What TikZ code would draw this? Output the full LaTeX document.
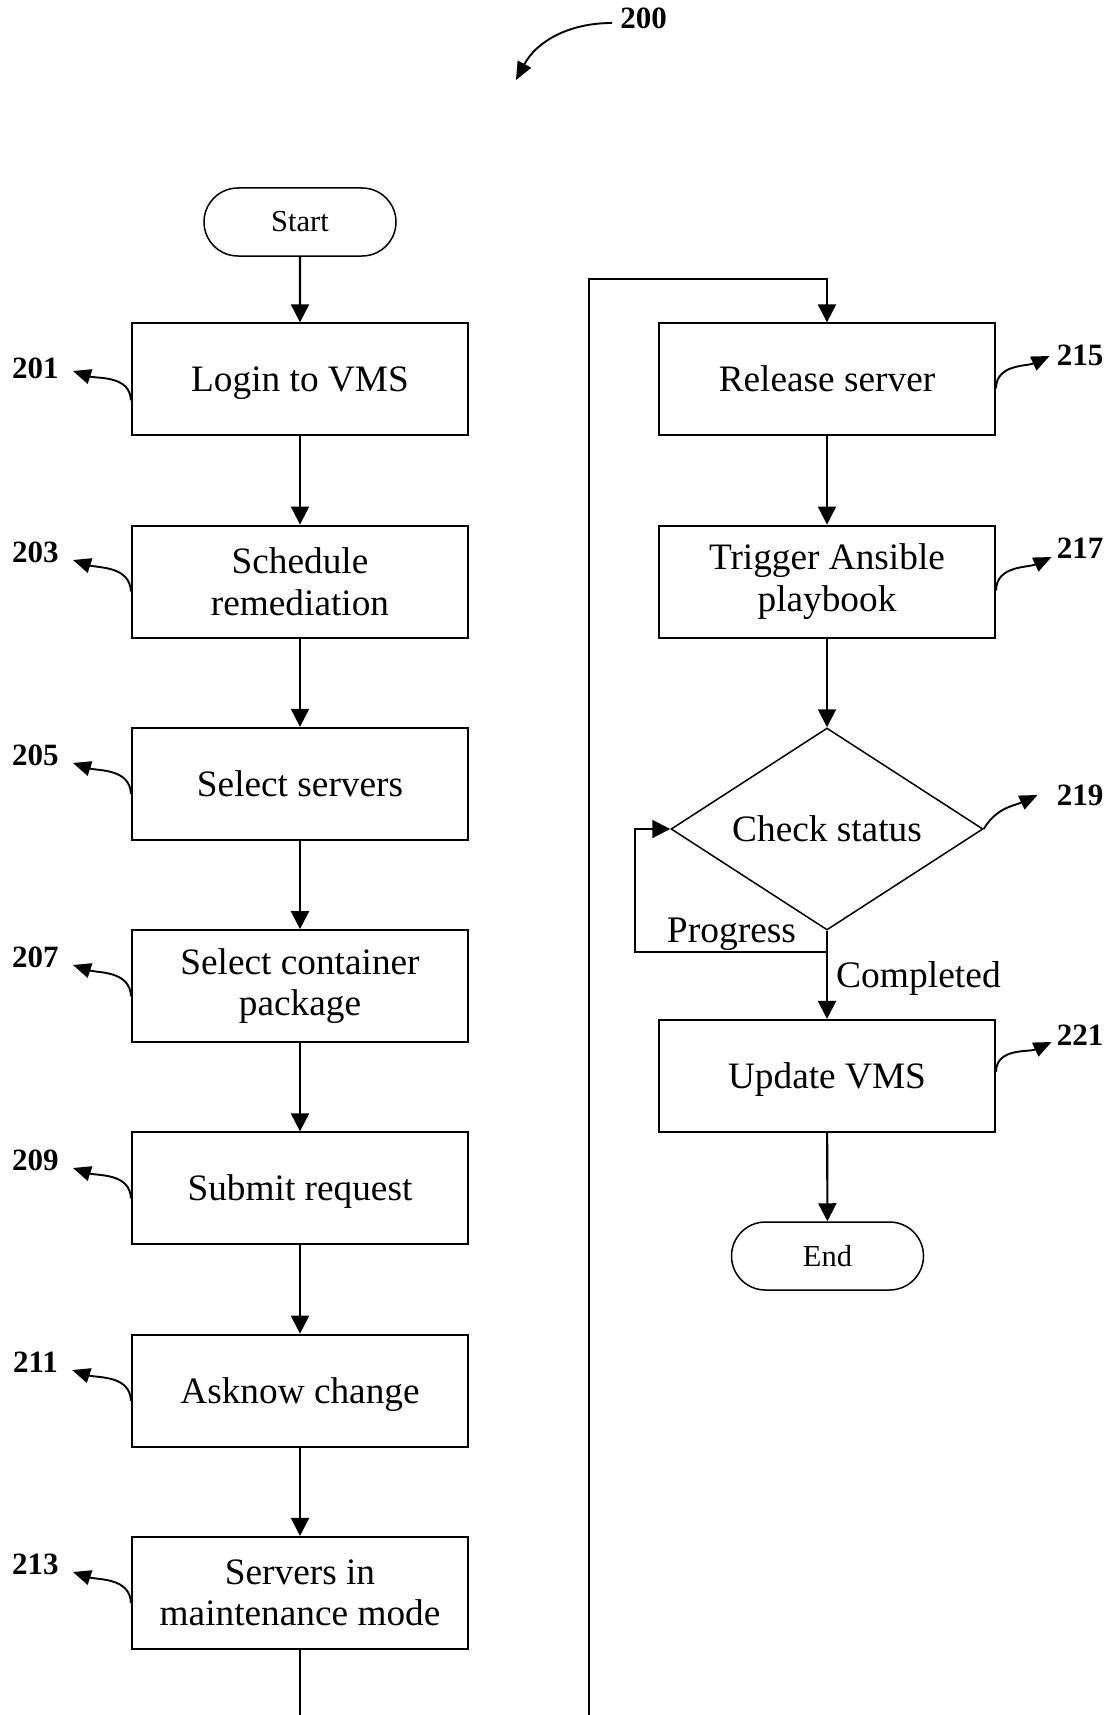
\documentclass[tikz,border=0pt]{standalone}
\usepackage{fontspec}
\setmainfont{Liberation Serif}
\usetikzlibrary{arrows.meta,shapes.geometric,shapes.misc}
\begin{document}
\begin{tikzpicture}[x=1pt,y=1pt,
  stepbox/.style={draw,line width=2.1pt,minimum width=336pt,minimum height=112pt,
    inner sep=0pt,align=center,font=\fontsize{37.3}{41.5}\selectfont},
  oneline/.style={text height=25pt,text depth=0pt},
  terminal/.style={draw,rounded rectangle,line width=1.5pt,minimum width=192pt,
    minimum height=68pt,inner sep=0pt,font=\fontsize{30.5}{34}\selectfont},
  decision/.style={draw,diamond,aspect=1.545,line width=1.5pt,minimum width=312pt,
    minimum height=202pt,inner sep=0pt,font=\fontsize{37.3}{41.5}\selectfont},
  flow/.style={line width=2.1pt,-{Triangle[length=18pt,width=18pt]}},
  plain/.style={line width=2.1pt},
  refnum/.style={font=\fontsize{31}{34}\selectfont\bfseries,inner sep=0pt},
  refarrow/.style={line width=1.9pt,-{Triangle[length=18pt,width=15pt]}},
  branch/.style={font=\fontsize{37.5}{41}\selectfont,inner sep=0pt,anchor=base}
]
\useasboundingbox (0,0) rectangle (1113,-1715);

% figure number
\node[refnum] (fig) at (643.5,-18) {200};
\coordinate (figtip) at (516,-80);
\draw[refarrow] ([xshift=-8pt,yshift=-5pt]fig.west) to[out=180,in=62] (figtip);

% left column
\node[terminal] (start) at (300,-222) {Start};
\node[stepbox,oneline] (b201) at (300,-379.4) {Login to VMS};
\node[stepbox] (b203) at (300,-581.6) {Schedule\\remediation};
\node[stepbox,oneline] (b205) at (300,-783.9) {Select servers};
\node[stepbox] (b207) at (300,-986.2) {Select container\\package};
\node[stepbox,oneline] (b209) at (300,-1188.4) {Submit request};
\node[stepbox,oneline] (b211) at (300,-1390.7) {Asknow change};
\node[stepbox] (b213) at (300,-1593) {Servers in\\maintenance mode};

% right column
\node[stepbox,oneline] (b215) at (827,-379.4) {Release server};
\node[stepbox] (b217) at (827,-581.6) {Trigger Ansible\\playbook};
\node[decision] (chk) at (827,-829) {Check status};
\node[stepbox,oneline] (b221) at (827,-1076) {Update VMS};
\node[terminal] (end) at (827.5,-1256) {End};

% main flow
\draw[flow] (start) -- (b201);
\draw[flow] (b201) -- (b203);
\draw[flow] (b203) -- (b205);
\draw[flow] (b205) -- (b207);
\draw[flow] (b207) -- (b209);
\draw[flow] (b209) -- (b211);
\draw[flow] (b211) -- (b213);

% continuation from the left column to the right column
\coordinate (offL) at (300,-1720);
\coordinate (offR) at (589,-1720);
\coordinate (turn) at (589,-279);
\draw[plain] (b213.south) -- (offL);
\draw[flow] (offR) -- (turn) -| (b215.north);

\draw[flow] (b215) -- (b217);
\draw[flow] (b217) -- (chk.north);

% status loop
\coordinate (split) at (827,-952);
\coordinate (loopc) at (635,-952);
\draw[plain] (chk.south) -- (split);
\draw[flow] (split) -- (loopc) |- (chk.west);
\draw[flow] (split) -- (b221.north);
\node[branch] (prog) at (731.5,-942) {Progress};
\node[branch,anchor=base west] (done) at (836,-987) {Completed};

\draw[flow] (b221) -- (end);

% reference numerals, left side
\node[refnum] (l201) at (35.5,-368) {201};
\node[refnum] (l203) at (35.5,-552) {203};
\node[refnum] (l205) at (35.5,-755) {205};
\node[refnum] (l207) at (35.5,-957) {207};
\node[refnum] (l209) at (35.5,-1160) {209};
\node[refnum] (l211) at (35.5,-1362) {211};
\node[refnum] (l213) at (35.5,-1564) {213};

\draw[refarrow] ([yshift=-21pt]b201.west) to[out=92,in=-18] ([shift={(14pt,-3pt)}]l201.east);
\draw[refarrow] ([yshift=-10pt]b203.west) to[out=92,in=-18] ([shift={(14pt,-8pt)}]l203.east);
\draw[refarrow] ([yshift=-10pt]b205.west) to[out=92,in=-18] ([shift={(14pt,-8pt)}]l205.east);
\draw[refarrow] ([yshift=-10pt]b207.west) to[out=92,in=-18] ([shift={(14pt,-8pt)}]l207.east);
\draw[refarrow] ([yshift=-10pt]b209.west) to[out=92,in=-18] ([shift={(14pt,-8pt)}]l209.east);
\draw[refarrow] ([yshift=-10pt]b211.west) to[out=92,in=-18] ([shift={(14pt,-8pt)}]l211.east);
\draw[refarrow] ([yshift=-10pt]b213.west) to[out=92,in=-18] ([shift={(14pt,-8pt)}]l213.east);

% reference numerals, right side
\node[refnum] (l215) at (1080,-355) {215};
\node[refnum] (l217) at (1080,-548) {217};
\node[refnum] (l219) at (1080,-795) {219};
\node[refnum] (l221) at (1080,-1035) {221};

\draw[refarrow] ([yshift=-9pt]b215.east) to[out=90,in=205] ([shift={(-7pt,-1pt)}]l215.west);
\draw[refarrow] ([yshift=-9pt]b217.east) to[out=90,in=205] ([shift={(-5pt,-9pt)}]l217.west);
\draw[refarrow] (chk.east) to[out=60,in=205] ([shift={(-19pt,0pt)}]l219.west);
\draw[refarrow] ([yshift=4pt]b221.east) to[out=90,in=205] ([shift={(-5pt,-7pt)}]l221.west);
\end{tikzpicture}
\end{document}
